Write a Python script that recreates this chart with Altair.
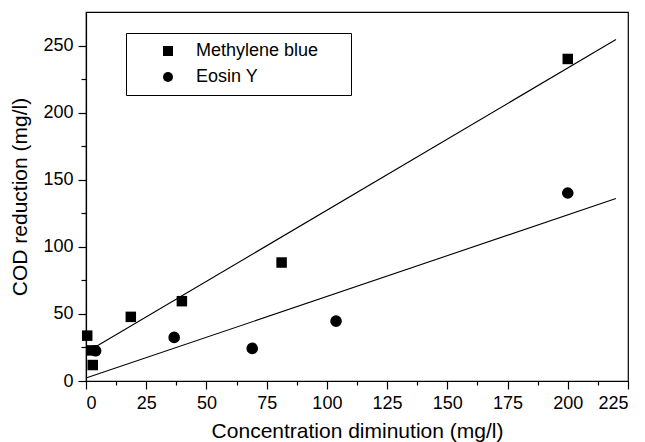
import altair as alt
import pandas as pd

# Measured points
mb_x = [0.5, 2.8, 2.5, 18.6, 39.8, 81.2, 200.0]
mb_y = [33.8, 11.9, 22.8, 47.8, 59.5, 88.3, 240.0]
ey_x = [4.0, 36.6, 69.0, 103.8, 200.0]
ey_y = [22.5, 32.5, 24.3, 44.6, 140.1]

# Fitted line endpoints
mb_fit_x = [4.0, 220.0]
mb_fit_y = [25.5, 254.5]
ey_fit_x = [0.0, 220.0]
ey_fit_y = [2.2, 136.0]

series = ["Methylene blue", "Eosin Y"]

pts = pd.DataFrame({
    "x": mb_x + ey_x,
    "y": mb_y + ey_y,
    "s": [series[0]] * len(mb_x) + [series[1]] * len(ey_x),
})
fits = pd.DataFrame({
    "x": mb_fit_x + ey_fit_x,
    "y": mb_fit_y + ey_fit_y,
    "s": [series[0]] * 2 + [series[1]] * 2,
})

x_vals = [i * 12.5 for i in range(19)]
y_vals = [i * 25 for i in range(11)]

FONT = "Liberation Sans"

x_enc = alt.X(
    "x:Q",
    scale=alt.Scale(domain=[0, 225], nice=False, zero=False),
    axis=alt.Axis(
        title="Concentration diminution (mg/l)",
        values=x_vals,
        labelExpr="datum.value % 25 === 0 ? datum.label : ''",
        tickSize={"condition": {"test": "datum.value % 25 === 0", "value": 8}, "value": 4},
        labelPadding=5,
        titlePadding=8,
    ),
)
y_enc = alt.Y(
    "y:Q",
    scale=alt.Scale(domain=[0, 275], nice=False, zero=False),
    axis=alt.Axis(
        title="COD reduction (mg/l)",
        values=y_vals,
        labelExpr="datum.value % 50 === 0 ? datum.label : ''",
        tickSize={"condition": {"test": "datum.value % 50 === 0", "value": 8}, "value": 5},
        labelPadding=5,
        titlePadding=12,
    ),
)

lines = alt.Chart(fits).mark_line(color="black", strokeWidth=1.1).encode(
    x=x_enc, y=y_enc, detail="s:N"
)

points = alt.Chart(pts).mark_point(filled=True, color="black", opacity=1).encode(
    x=x_enc,
    y=y_enc,
    size=alt.condition(alt.datum.s == series[1], alt.value(135), alt.value(110)),
    shape=alt.Shape(
        "s:N",
        scale=alt.Scale(domain=series, range=["square", "circle"]),
        legend=alt.Legend(
            title=None,
            orient="none",
            legendX=40,
            legendY=21,
            padding=9,
            symbolOffset=24,
            labelOffset=19,
            rowPadding=8,
            strokeColor="black",
            fillColor="white",
            labelFontSize=18,
            labelFont=FONT,
            labelColor="black",
            labelLimit=400,
            symbolSize=100,
            symbolFillColor="black",
            symbolStrokeWidth=0,
            labelExpr="datum.label + '\u2007\u2800'",
        ),
    ),
)

chart = (
    alt.layer(lines, points)
    .properties(
        width=542,
        height=369,
        autosize=alt.AutoSizeParams(type="none"),
        padding={"left": 86, "top": 12, "right": 17, "bottom": 61},
        background="white",
    )
    .configure_view(stroke="black", strokeWidth=1.2)
    .configure_axis(
        grid=False,
        domainColor="black",
        domainWidth=1.2,
        tickColor="black",
        tickWidth=1.2,
        labelColor="black",
        titleColor="black",
        labelFont=FONT,
        titleFont=FONT,
        labelFontSize=18,
        titleFontSize=21,
        titleFontWeight="normal",
    )
)

chart.save("out.html", embed_options={"renderer": "svg", "actions": False})
